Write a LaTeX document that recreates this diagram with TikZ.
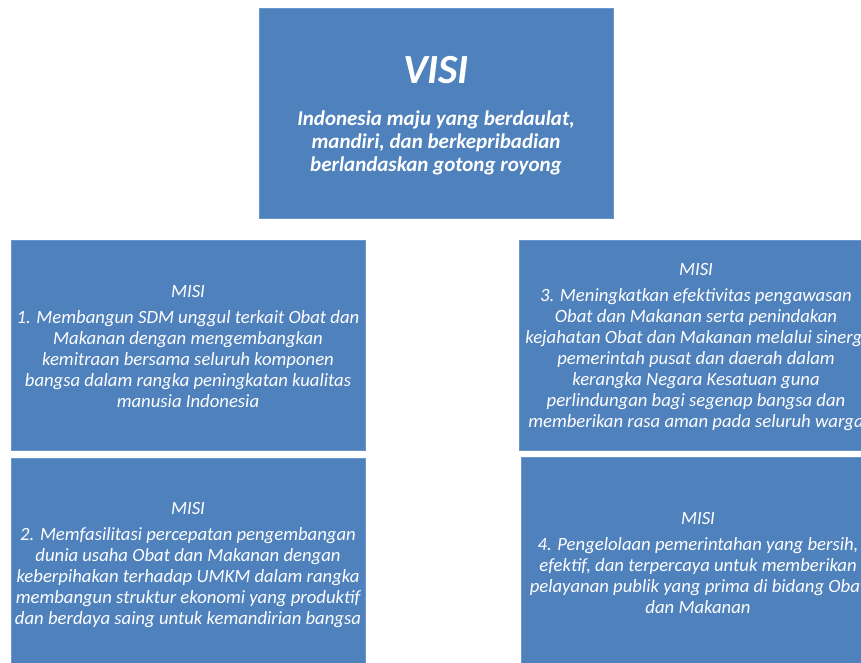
\documentclass[tikz,border=0pt]{standalone}
\usepackage{fontspec}
\setmainfont{Carlito}
\definecolor{boxblue}{HTML}{4F81BD}
\definecolor{boxedge}{HTML}{6A98CE}
\begin{document}
\begin{tikzpicture}[x=1pt,y=-1pt,
  bluebox/.style={rectangle, fill=boxblue, draw=boxedge, line width=0.8pt,
    minimum width=354pt, minimum height=210pt, inner sep=0pt},
  misitext/.style={text=white, align=center, inner sep=0pt,
    font=\fontsize{18.7}{21}\selectfont\itshape},
  titletext/.style={text=white, inner sep=0pt, font=\fontsize{41.5}{47}\selectfont\bfseries\itshape},
  subtext/.style={text=white, align=center, inner sep=0pt, font=\fontsize{21}{23}\selectfont\bfseries\itshape}
]
\useasboundingbox (0,0) rectangle (861,663);
\fill[white] (0,0) rectangle (861,663);

% VISI
\node[bluebox] (visi) at (436,113) {};
\node[titletext, anchor=base] (visititle) at (436,84) {VISI};
\node[subtext, anchor=north] (visisub) at (436,111) {Indonesia maju yang berdaulat,\\ mandiri, dan berkepribadian\\ berlandaskan gotong royong};

% MISI 1
\node[bluebox] (m1) at (188,345) {};
\node[misitext] (m1t) at (188,347) {MISI\\[5pt]
1. Membangun SDM unggul terkait Obat dan\\
Makanan dengan mengembangkan\\
kemitraan bersama seluruh komponen\\
bangsa dalam rangka peningkatan kualitas\\
manusia Indonesia};

% MISI 2
\node[bluebox] (m2) at (188,563) {};
\node[misitext] (m2t) at (188,565) {MISI\\[5pt]
2. Memfasilitasi percepatan pengembangan\\
dunia usaha Obat dan Makanan dengan\\
keberpihakan terhadap UMKM dalam rangka\\
membangun struktur ekonomi yang produktif\\
dan berdaya saing untuk kemandirian bangsa};

% MISI 3
\node[bluebox] (m3) at (696,345) {};
\node[misitext] (m3t) at (696,347) {MISI\\[5pt]
3. Meningkatkan efektivitas pengawasan\\
Obat dan Makanan serta penindakan\\
kejahatan Obat dan Makanan melalui sinergi\\
pemerintah pusat dan daerah dalam\\
kerangka Negara Kesatuan guna\\
perlindungan bagi segenap bangsa dan\\
memberikan rasa aman pada seluruh warga};

% MISI 4
\node[bluebox] (m4) at (698,562) {};
\node[misitext] (m4t) at (698,563) {MISI\\[5pt]
4. Pengelolaan pemerintahan yang bersih,\\
efektif, dan terpercaya untuk memberikan\\
pelayanan publik yang prima di bidang Obat\\
dan Makanan};
\end{tikzpicture}
\end{document}
